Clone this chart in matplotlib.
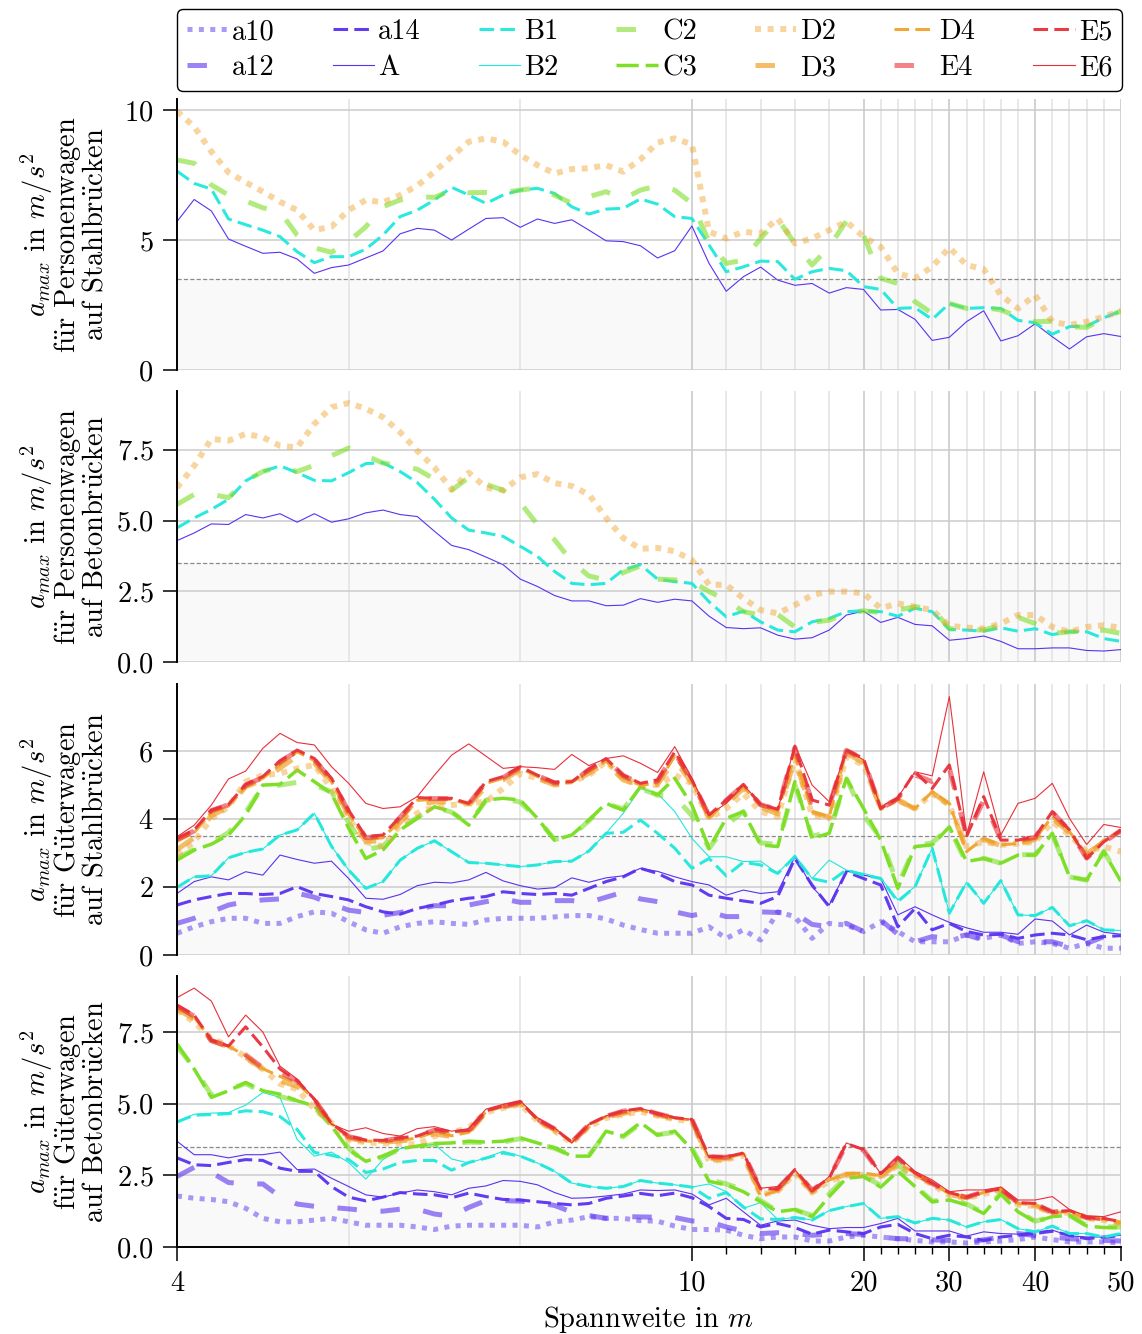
import numpy as np
import matplotlib
matplotlib.use("Agg")
import matplotlib.pyplot as plt

plt.rcParams["font.family"] = "cmr10"
plt.rcParams["mathtext.fontset"] = "cm"
plt.rcParams["axes.formatter.use_mathtext"] = True
plt.rcParams["lines.scale_dashes"] = False

# span lengths in m
spans = [4.0, 4.2, 4.4, 4.6, 4.8, 5.0, 5.2, 5.4, 5.6, 5.8,
         6.0, 6.2, 6.4, 6.6, 6.8, 7.0, 7.2, 7.4, 7.6, 7.8,
         8.0, 8.2, 8.4, 8.6, 8.8, 9.0, 9.2, 9.4, 9.6, 9.8,
         10.0, 11, 12, 13, 14, 15, 16, 17, 18, 19,
         20, 22, 24, 26, 28, 30, 32, 34, 36, 38,
         40, 42, 44, 46, 48, 50]
span_ticks = [4, 10, 20, 30, 40, 50]

# Personenwagen, Stahlbruecken
ps_A = [5.71, 6.56, 6.12, 5.04, 4.76, 4.49, 4.53, 4.27, 3.72, 3.94,
        4.04, 4.31, 4.58, 5.24, 5.45, 5.38, 5.00, 5.42, 5.83, 5.86,
        5.49, 5.81, 5.64, 5.78, 5.38, 4.97, 4.94, 4.78, 4.31, 4.59,
        5.54, 4.10, 3.03, 3.59, 3.96, 3.46, 3.26, 3.33, 2.96, 3.17,
        3.10, 2.31, 2.33, 1.95, 1.14, 1.26, 1.86, 2.28, 1.12, 1.32,
        1.78, 1.28, 0.81, 1.28, 1.40, 1.29]
ps_B1 = [7.65, 7.18, 6.96, 5.81, 5.59, 5.38, 5.13, 4.55, 4.13, 4.36,
         4.36, 4.65, 5.19, 5.90, 6.15, 6.54, 7.03, 6.73, 6.41, 6.73,
         6.92, 6.99, 6.79, 6.28, 6.00, 6.19, 6.22, 6.58, 6.38, 5.90,
         5.83, 4.81, 3.78, 3.97, 4.19, 4.17, 3.49, 3.78, 3.91, 3.82,
         3.21, 3.10, 2.37, 2.40, 1.95, 2.56, 2.37, 2.40, 2.37, 1.91,
         1.82, 1.38, 1.67, 1.69, 2.01, 2.27]
ps_C2 = [8.08, 7.95, 7.12, 6.73, 6.50, 6.24, 6.09, 5.19, 4.70, 4.53,
         4.94, 5.51, 6.28, 6.54, 6.67, 6.64, 6.92, 6.82, 6.83, 6.83,
         6.92, 7.01, 6.73, 6.41, 6.67, 6.86, 6.58, 6.92, 7.09, 6.92,
         6.41, 4.94, 4.10, 4.23, 5.06, 5.81, 4.87, 4.04, 4.74, 5.73,
         5.19, 3.53, 3.33, 2.63, 2.18, 2.56, 2.37, 2.41, 2.31, 2.05,
         1.86, 1.88, 1.67, 1.64, 1.99, 2.27]
ps_D2 = [9.95, 9.36, 8.40, 7.60, 7.22, 6.86, 6.47, 6.15, 5.38, 5.51,
         6.15, 6.54, 6.45, 6.73, 7.09, 7.63, 8.21, 8.78, 8.91, 8.78,
         8.27, 7.88, 7.56, 7.73, 7.76, 7.88, 7.63, 8.10, 8.75, 8.91,
         8.68, 5.32, 5.06, 5.32, 5.25, 5.83, 4.87, 5.06, 5.38, 5.71,
         5.13, 4.74, 3.72, 3.53, 3.97, 4.71, 4.04, 3.88, 2.88, 2.37,
         2.88, 1.86, 1.73, 1.86, 2.05, 2.27]

# Personenwagen, Betonbruecken
pb_A = [4.29, 4.56, 4.88, 4.86, 5.21, 5.09, 5.24, 4.94, 5.24, 4.94,
        5.06, 5.27, 5.37, 5.21, 5.14, 4.62, 4.12, 3.97, 3.71, 3.44,
        2.93, 2.67, 2.35, 2.16, 2.16, 1.99, 2.01, 2.24, 2.11, 2.22,
        2.16, 1.62, 1.22, 1.18, 1.21, 0.95, 0.81, 0.86, 1.13, 1.66,
        1.80, 1.40, 1.58, 1.33, 1.28, 0.77, 0.83, 0.92, 0.73, 0.47,
        0.47, 0.50, 0.50, 0.41, 0.39, 0.44]
pb_B1 = [4.74, 5.09, 5.39, 5.75, 6.40, 6.73, 6.93, 6.69, 6.42, 6.40,
         6.69, 7.01, 7.04, 6.73, 6.34, 5.75, 5.09, 4.66, 4.56, 4.44,
         4.09, 3.73, 3.20, 2.78, 2.73, 2.78, 3.26, 3.44, 2.93, 2.84,
         2.78, 2.13, 1.60, 1.80, 1.42, 1.13, 1.07, 1.42, 1.54, 1.78,
         1.81, 1.78, 1.62, 1.90, 1.78, 1.15, 1.13, 1.09, 1.21, 1.09,
         1.18, 0.97, 1.07, 1.07, 0.83, 0.73]
pb_C2 = [5.57, 5.92, 5.92, 5.81, 6.40, 6.73, 6.90, 6.73, 6.95, 7.29,
         7.56, 7.29, 7.03, 6.93, 6.81, 6.46, 6.07, 6.52, 6.28, 6.07,
         5.63, 4.86, 4.32, 3.55, 3.04, 2.90, 3.16, 3.40, 2.93, 2.90,
         2.84, 2.49, 2.19, 1.78, 1.66, 1.68, 1.24, 1.40, 1.48, 1.72,
         1.81, 1.75, 1.84, 1.95, 1.90, 1.18, 1.15, 1.13, 1.30, 1.58,
         1.36, 1.01, 1.07, 1.09, 1.13, 1.01]
pb_D2 = [6.16, 6.93, 7.88, 7.82, 8.06, 7.94, 7.64, 7.58, 8.41, 9.00,
         9.15, 8.95, 8.65, 8.12, 7.46, 6.87, 6.10, 6.69, 6.16, 6.07,
         6.52, 6.64, 6.32, 6.22, 5.92, 5.09, 4.38, 4.00, 4.03, 3.91,
         3.61, 2.73, 2.73, 2.25, 1.84, 1.72, 2.01, 2.37, 2.49, 2.49,
         2.43, 1.90, 2.07, 1.95, 1.84, 1.28, 1.22, 1.18, 1.36, 1.66,
         1.66, 1.24, 1.07, 1.24, 1.30, 1.21]

# Gueterwagen, Stahlbruecken
gs_a10 = [0.64, 0.83, 0.98, 1.08, 1.08, 0.93, 0.93, 1.13, 1.27, 1.23,
          0.98, 0.74, 0.64, 0.83, 0.93, 0.98, 0.93, 0.90, 1.03, 1.08,
          1.08, 1.08, 1.12, 1.16, 1.16, 1.06, 0.88, 0.75, 0.64, 0.64,
          0.64, 0.83, 0.49, 0.74, 0.44, 1.27, 1.13, 0.49, 0.93, 0.88,
          0.69, 0.98, 0.69, 0.39, 0.39, 0.39, 0.59, 0.49, 0.59, 0.34,
          0.39, 0.34, 0.20, 0.34, 0.20, 0.20]
gs_a12 = [0.93, 1.08, 1.27, 1.47, 1.57, 1.62, 1.65, 1.82, 1.70, 1.50,
          1.32, 1.25, 1.17, 1.25, 1.35, 1.45, 1.45, 1.47, 1.57, 1.65,
          1.55, 1.55, 1.60, 1.60, 1.55, 1.70, 1.85, 1.65, 1.57, 1.27,
          1.16, 1.27, 1.13, 1.13, 1.27, 1.25, 1.23, 0.90, 0.83, 0.93,
          0.69, 1.03, 0.61, 0.39, 0.54, 0.49, 0.59, 0.44, 0.59, 0.39,
          0.39, 0.39, 0.25, 0.34, 0.54, 0.54]
gs_a14 = [1.47, 1.62, 1.72, 1.81, 1.81, 1.78, 1.81, 2.01, 1.81, 1.72,
          1.62, 1.42, 1.27, 1.20, 1.37, 1.47, 1.59, 1.67, 1.72, 1.86,
          1.81, 1.78, 1.81, 1.76, 1.96, 2.16, 2.30, 2.55, 2.40, 2.16,
          2.06, 1.76, 1.67, 1.59, 1.52, 1.72, 2.84, 2.06, 1.42, 2.45,
          2.25, 2.06, 0.83, 1.37, 0.74, 0.93, 0.69, 0.59, 0.61, 0.49,
          0.59, 0.64, 0.59, 0.45, 0.54, 0.57]
gs_A = [1.81, 2.16, 2.30, 2.21, 2.45, 2.35, 2.94, 2.81, 2.70, 2.76,
        2.25, 1.67, 1.64, 1.78, 2.04, 2.14, 2.12, 2.21, 2.43, 2.18,
        2.04, 1.94, 1.98, 2.27, 2.14, 2.27, 2.33, 2.55, 2.46, 2.30,
        2.16, 2.06, 1.76, 1.91, 1.81, 1.86, 2.89, 2.01, 1.47, 2.47,
        2.35, 2.25, 1.18, 1.42, 1.18, 0.96, 0.80, 0.67, 0.67, 0.61,
        1.06, 1.00, 0.59, 0.88, 0.67, 0.61]
gs_B1 = [1.99, 2.30, 2.33, 2.86, 3.02, 3.12, 3.53, 3.68, 4.17, 3.20,
         2.50, 1.96, 2.16, 2.79, 3.14, 3.36, 3.04, 2.72, 2.70, 2.65,
         2.60, 2.65, 2.75, 2.76, 3.06, 3.58, 3.61, 3.97, 3.58, 3.14,
         2.55, 2.84, 2.33, 2.73, 2.65, 2.40, 2.89, 2.25, 2.14, 2.50,
         2.35, 2.25, 1.57, 2.01, 3.14, 1.23, 2.14, 1.52, 2.19, 1.18,
         1.16, 1.40, 0.86, 1.01, 0.74, 0.72]
gs_B2 = [1.99, 2.30, 2.33, 2.86, 3.02, 3.12, 3.53, 3.68, 4.17, 3.20,
         2.50, 1.96, 2.16, 2.79, 3.14, 3.36, 3.04, 2.72, 2.70, 2.65,
         2.60, 2.65, 2.75, 2.76, 3.06, 3.58, 4.17, 4.90, 4.75, 4.22,
         3.43, 2.89, 2.89, 2.75, 2.76, 2.40, 2.94, 2.25, 2.79, 2.50,
         2.40, 2.27, 1.62, 2.01, 3.14, 1.23, 2.14, 1.52, 2.19, 1.18,
         1.16, 1.40, 0.86, 1.01, 0.74, 0.72]
gs_C2 = [2.85, 3.10, 3.30, 3.60, 4.20, 4.95, 5.00, 5.08, 5.00, 4.80,
         3.90, 3.10, 3.20, 3.70, 4.05, 4.35, 4.20, 3.85, 4.55, 4.60,
         4.50, 4.00, 3.40, 3.50, 3.95, 4.45, 4.30, 4.90, 4.70, 4.66,
         4.10, 3.14, 3.82, 4.22, 3.30, 3.25, 5.00, 3.50, 3.60, 5.20,
         4.10, 3.45, 2.05, 3.20, 3.30, 3.75, 2.70, 2.85, 2.70, 2.95,
         2.95, 3.55, 2.30, 2.20, 3.05, 2.20]
gs_C3 = [2.79, 3.09, 3.26, 3.53, 4.12, 5.00, 5.02, 5.44, 5.10, 4.75,
         3.73, 2.84, 3.09, 3.68, 4.02, 4.36, 4.22, 3.82, 4.56, 4.61,
         4.56, 4.02, 3.38, 3.53, 3.97, 4.46, 4.26, 4.95, 4.71, 5.20,
         4.41, 3.14, 4.02, 4.22, 3.24, 3.19, 5.10, 3.43, 3.58, 5.20,
         4.31, 3.38, 1.96, 3.19, 3.24, 3.77, 2.75, 2.84, 2.70, 2.94,
         2.94, 3.58, 2.30, 2.21, 3.04, 2.16]
gs_D2 = [2.94, 3.33, 4.02, 4.36, 5.10, 5.29, 5.34, 5.49, 5.59, 4.90,
         4.02, 3.33, 3.19, 3.82, 4.17, 4.36, 4.41, 4.46, 4.51, 4.90,
         5.34, 5.20, 5.05, 5.10, 5.29, 5.69, 5.20, 5.00, 5.00, 5.29,
         5.05, 4.02, 4.31, 4.75, 4.22, 4.07, 5.78, 4.12, 4.02, 5.83,
         5.59, 4.36, 4.56, 4.31, 4.75, 4.41, 3.19, 3.33, 3.24, 3.28,
         3.33, 3.92, 3.53, 3.04, 3.19, 3.04]
gs_D3 = [3.10, 3.45, 4.10, 4.35, 4.95, 5.15, 5.50, 5.85, 5.65, 5.05,
         4.10, 3.35, 3.35, 3.90, 4.45, 4.50, 4.50, 4.40, 4.95, 5.15,
         5.45, 5.20, 5.00, 5.05, 5.35, 5.65, 5.15, 4.98, 5.02, 5.75,
         5.05, 4.05, 4.45, 4.90, 4.35, 4.15, 5.75, 4.20, 4.05, 5.95,
         5.65, 4.30, 4.55, 4.30, 4.78, 4.42, 3.10, 3.40, 3.22, 3.26,
         3.40, 4.02, 3.60, 2.98, 3.32, 3.40]
gs_D4 = [3.35, 3.60, 4.20, 4.38, 4.95, 5.20, 5.60, 5.98, 5.72, 5.10,
         4.15, 3.40, 3.45, 3.95, 4.55, 4.58, 4.58, 4.42, 5.05, 5.20,
         5.50, 5.25, 5.05, 5.08, 5.40, 5.70, 5.20, 5.00, 5.05, 5.85,
         5.10, 4.05, 4.50, 4.95, 4.40, 4.22, 5.88, 4.22, 4.07, 6.00,
         5.72, 4.28, 4.58, 4.31, 4.80, 4.46, 3.04, 3.43, 3.24, 3.28,
         3.43, 4.07, 3.63, 2.94, 3.38, 3.63]
gs_E4 = [3.40, 3.65, 4.25, 4.42, 5.00, 5.22, 5.68, 6.00, 5.75, 5.15,
         4.22, 3.45, 3.50, 4.05, 4.60, 4.60, 4.60, 4.45, 5.08, 5.22,
         5.52, 5.28, 5.06, 5.08, 5.45, 5.75, 5.28, 5.04, 5.12, 5.95,
         5.12, 4.10, 4.55, 5.00, 4.42, 4.28, 6.10, 4.50, 4.38, 6.02,
         5.76, 4.30, 4.60, 5.30, 5.10, 5.50, 3.50, 4.55, 3.40, 3.38,
         3.46, 4.20, 3.66, 2.85, 3.32, 3.66]
gs_E5 = [3.43, 3.68, 4.26, 4.43, 5.02, 5.25, 5.71, 6.03, 5.78, 5.20,
         4.26, 3.48, 3.53, 4.07, 4.63, 4.61, 4.61, 4.46, 5.10, 5.25,
         5.54, 5.29, 5.08, 5.10, 5.47, 5.78, 5.29, 5.05, 5.15, 5.98,
         5.15, 4.12, 4.56, 5.02, 4.43, 4.29, 6.13, 4.56, 4.41, 6.03,
         5.78, 4.31, 4.61, 5.39, 4.90, 5.59, 3.48, 4.66, 3.38, 3.38,
         3.48, 4.22, 3.68, 2.84, 3.33, 3.68]
gs_E6 = [3.48, 3.82, 4.41, 5.18, 5.41, 6.08, 6.52, 6.25, 6.18, 5.54,
         5.05, 4.46, 4.31, 4.36, 4.66, 5.29, 5.88, 6.21, 5.85, 5.49,
         5.54, 5.51, 5.46, 5.90, 5.57, 5.78, 5.86, 5.64, 5.37, 6.13,
         5.20, 4.12, 4.46, 5.00, 4.46, 4.26, 6.18, 5.00, 4.51, 6.03,
         5.74, 4.36, 4.64, 5.39, 5.27, 7.60, 3.53, 5.39, 3.53, 4.46,
         4.61, 5.05, 4.02, 3.25, 3.84, 3.75]

# Gueterwagen, Betonbruecken
gb_a10 = [1.78, 1.70, 1.66, 1.58, 1.35, 1.00, 0.88, 0.88, 0.94, 1.00,
          0.88, 0.76, 0.76, 0.76, 0.70, 0.61, 0.73, 0.76, 0.76, 0.76,
          0.76, 0.70, 0.88, 0.94, 1.06, 1.00, 1.00, 0.92, 0.90, 0.73,
          0.61, 0.61, 0.59, 0.41, 0.29, 0.35, 0.35, 0.21, 0.21, 0.35,
          0.41, 0.35, 0.29, 0.23, 0.18, 0.18, 0.14, 0.18, 0.21, 0.26,
          0.35, 0.26, 0.18, 0.18, 0.18, 0.14]
gb_a12 = [2.46, 2.78, 2.60, 2.25, 2.20, 2.20, 1.76, 1.50, 1.42, 1.38,
          1.33, 1.27, 1.25, 1.32, 1.32, 1.15, 1.08, 1.38, 1.62, 1.62,
          1.60, 1.55, 1.45, 1.22, 1.10, 1.00, 1.06, 1.05, 1.04, 1.03,
          0.91, 0.88, 0.70, 0.56, 0.47, 0.50, 0.47, 0.41, 0.45, 0.47,
          0.44, 0.35, 0.29, 0.29, 0.25, 0.23, 0.18, 0.25, 0.35, 0.47,
          0.40, 0.35, 0.29, 0.25, 0.23, 0.21]
gb_a14 = [3.11, 2.87, 2.84, 2.95, 3.05, 3.02, 2.75, 2.64, 2.64, 2.11,
          1.74, 1.61, 1.74, 1.90, 1.85, 1.82, 1.72, 1.88, 1.76, 1.66,
          1.64, 1.58, 1.52, 1.47, 1.52, 1.70, 1.78, 1.87, 1.79, 1.88,
          1.72, 1.41, 1.00, 0.96, 0.70, 0.82, 0.68, 0.45, 0.59, 0.53,
          0.47, 0.70, 0.79, 0.47, 0.29, 0.41, 0.35, 0.23, 0.35, 0.41,
          0.47, 0.55, 0.41, 0.29, 0.35, 0.39]
gb_A = [3.69, 3.22, 3.22, 3.11, 3.22, 3.22, 3.31, 2.70, 2.72, 2.40,
        2.11, 1.82, 1.74, 1.88, 1.99, 1.93, 1.82, 2.05, 2.13, 2.32,
        2.29, 2.17, 1.90, 1.70, 1.72, 1.78, 1.85, 1.99, 1.97, 1.99,
        1.85, 1.47, 1.70, 1.23, 0.76, 0.91, 0.94, 0.76, 0.64, 0.68,
        0.68, 0.82, 1.00, 0.56, 0.56, 0.56, 0.38, 0.53, 0.47, 0.45,
        0.53, 0.59, 0.39, 0.35, 0.35, 0.41]
gb_B1 = [4.36, 4.60, 4.62, 4.65, 4.75, 4.72, 4.55, 4.10, 3.30, 3.20,
         3.05, 2.60, 2.72, 2.95, 3.02, 3.02, 2.68, 2.95, 3.10, 3.28,
         3.17, 2.93, 2.64, 2.23, 2.11, 2.05, 2.11, 2.32, 2.23, 2.17,
         2.09, 1.70, 1.90, 1.40, 0.98, 0.96, 1.03, 0.94, 1.27, 1.41,
         1.52, 1.00, 1.06, 0.84, 1.00, 0.94, 0.70, 0.88, 0.96, 0.64,
         0.53, 0.73, 0.47, 0.47, 0.35, 0.47]
gb_B2 = [4.36, 4.63, 4.67, 4.69, 4.95, 5.39, 5.22, 3.75, 3.17, 3.31,
         2.95, 2.37, 3.05, 3.43, 3.52, 3.58, 3.07, 2.93, 3.11, 3.34,
         3.17, 2.93, 2.64, 2.23, 2.11, 2.05, 2.11, 2.32, 2.23, 2.17,
         2.09, 2.20, 1.93, 1.35, 1.55, 0.96, 1.03, 0.94, 1.27, 1.41,
         1.52, 1.00, 1.06, 0.84, 1.00, 0.94, 0.70, 0.88, 0.96, 0.64,
         0.53, 0.73, 0.47, 0.47, 0.35, 0.47]
gb_C2 = [7.00, 6.25, 5.30, 5.50, 5.70, 5.40, 5.25, 5.10, 4.87, 4.25,
         3.45, 2.93, 3.15, 3.40, 3.50, 3.58, 3.60, 3.66, 3.64, 3.66,
         3.78, 3.60, 3.44, 3.20, 3.20, 3.98, 3.85, 4.30, 3.92, 4.00,
         3.45, 2.35, 2.20, 2.00, 1.62, 1.25, 1.30, 1.10, 1.85, 2.45,
         2.48, 2.15, 2.93, 2.15, 1.60, 1.66, 1.50, 1.20, 1.88, 1.25,
         0.90, 1.05, 1.10, 0.75, 0.70, 0.70]
gb_C3 = [7.09, 6.21, 5.22, 5.45, 5.74, 5.45, 5.33, 5.10, 4.92, 4.22,
         3.40, 2.99, 3.17, 3.43, 3.52, 3.61, 3.63, 3.69, 3.66, 3.69,
         3.81, 3.63, 3.46, 3.17, 3.17, 4.04, 3.87, 4.34, 3.90, 4.04,
         3.40, 2.29, 2.17, 1.93, 1.58, 1.23, 1.31, 1.06, 1.76, 2.40,
         2.46, 2.09, 2.64, 2.11, 1.58, 1.64, 1.47, 1.17, 1.85, 1.23,
         0.88, 1.06, 1.11, 0.73, 0.68, 0.68]
gb_D2 = [8.27, 7.85, 7.27, 7.03, 6.62, 6.21, 5.69, 5.51, 4.81, 4.34,
         3.75, 3.65, 3.62, 3.60, 3.58, 3.87, 3.99, 4.16, 4.70, 4.85,
         4.98, 4.40, 4.05, 3.62, 4.20, 4.50, 4.62, 4.72, 4.58, 4.45,
         4.38, 3.00, 3.05, 3.20, 1.82, 1.95, 2.58, 1.90, 2.30, 2.50,
         2.52, 2.44, 2.85, 2.52, 2.18, 1.80, 1.70, 1.85, 2.00, 1.48,
         1.43, 1.18, 1.20, 1.00, 0.94, 0.82]
gb_D3 = [8.30, 7.95, 7.20, 6.98, 6.62, 6.20, 5.80, 5.60, 5.05, 4.30,
         3.80, 3.68, 3.65, 3.70, 3.75, 3.95, 3.85, 3.98, 4.70, 4.88,
         5.00, 4.42, 4.08, 3.64, 4.22, 4.52, 4.66, 4.76, 4.60, 4.48,
         4.40, 3.02, 3.08, 3.22, 1.80, 1.98, 2.60, 1.92, 2.32, 2.54,
         2.56, 2.46, 2.90, 2.55, 2.20, 1.83, 1.72, 1.88, 2.02, 1.50,
         1.45, 1.18, 1.22, 1.02, 0.95, 0.84]
gb_D4 = [8.35, 8.02, 7.22, 7.00, 6.68, 6.22, 5.95, 5.72, 5.15, 4.30,
         3.85, 3.70, 3.66, 3.72, 3.80, 4.02, 3.88, 4.00, 4.72, 4.90,
         5.03, 4.45, 4.10, 3.66, 4.25, 4.55, 4.68, 4.78, 4.62, 4.50,
         4.42, 3.05, 3.11, 3.25, 1.76, 1.99, 2.64, 1.93, 2.34, 2.56,
         2.58, 2.49, 2.93, 2.58, 2.23, 1.85, 1.74, 1.90, 2.05, 1.52,
         1.47, 1.20, 1.23, 1.03, 0.96, 0.84]
gb_E4 = [8.40, 8.05, 7.20, 7.00, 6.70, 6.25, 6.10, 5.78, 5.15, 4.30,
         3.85, 3.72, 3.70, 3.80, 3.86, 4.08, 4.00, 4.06, 4.74, 4.90,
         5.05, 4.45, 4.12, 3.66, 4.27, 4.56, 4.74, 4.82, 4.65, 4.50,
         4.44, 3.15, 3.13, 3.27, 2.03, 2.03, 2.68, 1.98, 2.40, 3.58,
         3.38, 2.55, 3.10, 2.57, 2.22, 1.88, 1.74, 1.92, 2.02, 1.54,
         1.50, 1.22, 1.26, 1.03, 0.99, 0.87]
gb_E5 = [8.44, 8.09, 7.21, 7.01, 7.68, 6.98, 6.21, 5.80, 5.16, 4.31,
         3.87, 3.73, 3.72, 3.81, 3.87, 4.10, 4.02, 4.07, 4.75, 4.92,
         5.06, 4.45, 4.13, 3.66, 4.28, 4.57, 4.75, 4.83, 4.65, 4.51,
         4.45, 3.17, 3.14, 3.28, 2.03, 2.03, 2.70, 1.99, 2.40, 3.61,
         3.40, 2.56, 3.11, 2.58, 2.23, 1.90, 1.74, 1.93, 2.03, 1.55,
         1.52, 1.23, 1.27, 1.03, 1.00, 0.88]
gb_E6 = [8.70, 9.03, 8.58, 7.33, 8.09, 7.50, 6.31, 5.86, 5.16, 4.28,
         4.04, 4.16, 3.96, 3.87, 4.13, 4.20, 4.04, 4.13, 4.81, 4.98,
         5.10, 4.51, 4.16, 3.63, 4.28, 4.57, 4.75, 4.83, 4.69, 4.51,
         4.45, 3.11, 3.17, 3.28, 2.05, 2.11, 2.70, 1.93, 2.46, 3.63,
         3.40, 2.56, 3.17, 2.64, 2.34, 1.93, 1.99, 1.99, 2.09, 1.64,
         1.64, 1.76, 1.31, 1.08, 1.06, 1.23]

limit = 3.5

# x axis: 0.2 m (up to 10 m), 1 m (up to 20 m) and 2 m steps get equal width
brk_m = [4, 10, 20, 50]
brk_u = [0, 30, 40, 55]


def fwd(x):
    return np.interp(x, brk_m, brk_u)


def inv(u):
    return np.interp(u, brk_u, brk_m)


c_a = "#5a32f0"
c_b = "#20e8dc"
c_c = "#7ddf28"
c_d = "#f0a22a"
c_e = "#e8303a"
long_dash = (0, (14, 17))
dash = (0, (10.5, 4.5))
styles = {
    "a10": dict(color=c_a, alpha=0.5, lw=3.6, ls=(0, (3.6, 4.6))),
    "a12": dict(color=c_a, alpha=0.6, lw=3.6, ls=long_dash),
    "a14": dict(color=c_a, alpha=0.95, lw=2.2, ls=dash),
    "A": dict(color=c_a, lw=0.8),
    "B1": dict(color=c_b, alpha=0.95, lw=2.2, ls=dash),
    "B2": dict(color=c_b, lw=0.8),
    "C2": dict(color=c_c, alpha=0.6, lw=3.6, ls=long_dash),
    "C3": dict(color=c_c, lw=2.5, ls=(0, (16, 5))),
    "D2": dict(color=c_d, alpha=0.45, lw=4.3, ls=(0, (4.3, 4.8))),
    "D3": dict(color=c_d, alpha=0.7, lw=3.6, ls=long_dash),
    "D4": dict(color=c_d, alpha=0.95, lw=2.2, ls=dash),
    "E4": dict(color=c_e, alpha=0.6, lw=3.6, ls=long_dash),
    "E5": dict(color=c_e, alpha=0.95, lw=2.2, ls=dash),
    "E6": dict(color=c_e, lw=0.8),
}

uu = r"$\ddot{\mathrm{u}}$"
acc = r"$a_{max}$ in $m/s^2$"
panels = [
    ({"A": ps_A, "B1": ps_B1, "C2": ps_C2, "D2": ps_D2},
     [acc, "f" + uu + "r Personenwagen", "auf Stahlbr" + uu + "cken"], 10.42, [0, 5, 10]),
    ({"A": pb_A, "B1": pb_B1, "C2": pb_C2, "D2": pb_D2},
     [acc, "f" + uu + "r Personenwagen", "auf Betonbr" + uu + "cken"], 9.57, [0, 2.5, 5, 7.5]),
    ({"a10": gs_a10, "a12": gs_a12, "a14": gs_a14, "A": gs_A, "B1": gs_B1, "B2": gs_B2,
      "C2": gs_C2, "C3": gs_C3, "D2": gs_D2, "D3": gs_D3, "D4": gs_D4,
      "E4": gs_E4, "E5": gs_E5, "E6": gs_E6},
     [acc, "f" + uu + "r G" + uu + "terwagen", "auf Stahlbr" + uu + "cken"], 7.97, [0, 2, 4, 6]),
    ({"a10": gb_a10, "a12": gb_a12, "a14": gb_a14, "A": gb_A, "B1": gb_B1, "B2": gb_B2,
      "C2": gb_C2, "C3": gb_C3, "D2": gb_D2, "D3": gb_D3, "D4": gb_D4,
      "E4": gb_E4, "E5": gb_E5, "E6": gb_E6},
     [acc, "f" + uu + "r G" + uu + "terwagen", "auf Betonbr" + uu + "cken"], 9.45, [0, 2.5, 5, 7.5]),
]

fs = 20.5
# baselines of the three y-label lines, in axes fraction
label_x = [-0.139, -0.1085, -0.0785]

fig = plt.figure(figsize=(11.42, 13.34), dpi=100)
bottoms = [0.7226, 0.5037, 0.2841, 0.0652]
axes = []
for k, (series, ylab, ytop, yt) in enumerate(panels):
    ax = fig.add_axes([0.155, bottoms[k], 0.8266, 0.2031])
    ax.set_xscale("function", functions=(fwd, inv))
    ax.set_xlim(4, 50)
    ax.set_ylim(0, ytop)
    ax.set_axisbelow(True)

    ax.axhspan(0, limit, color="#f9f9f9", zorder=0.2, lw=0)
    ax.axhline(limit, color="#8a8a8a", lw=0.9, ls=(0, (3, 1.6)), zorder=1.5)

    for name, vals in series.items():
        ax.plot(spans, vals, label=name, **styles[name])

    ax.set_xticks(span_ticks)
    ax.set_xticklabels([str(t) for t in span_ticks])
    ax.set_xticks([12, 14, 16, 18] + list(range(22, 50, 2)), minor=True)
    ax.grid(axis="x", which="major", color="#c6c6c6", lw=1.1)
    ax.grid(axis="x", which="minor", color="#e2e2e2", lw=1.1)
    for xv in (6, 8):
        ax.axvline(xv, color="#e2e2e2", lw=1.1, zorder=0.5)
    ax.set_yticks(yt)
    ax.grid(axis="y", color="#cccccc", lw=1.1)

    for s in ("top", "right"):
        ax.spines[s].set_visible(False)
    ax.spines["left"].set_linewidth(1.4)
    ax.spines["bottom"].set_linewidth(1.4)
    ax.tick_params(axis="y", direction="out", length=10, width=1.1, pad=7, labelsize=fs)
    ax.tick_params(axis="x", which="major", direction="out", length=10, width=1.1,
                   pad=7, labelsize=fs)
    ax.tick_params(axis="x", which="minor", direction="out", length=5, width=1.0)
    if k < 3:
        ax.spines["bottom"].set_visible(False)
        ax.tick_params(axis="x", which="both", bottom=False, labelbottom=False)

    for xl, line in zip(label_x, ylab):
        ax.text(xl, 0.5, line, transform=ax.transAxes, rotation=90,
                rotation_mode="anchor", ha="center", va="baseline", fontsize=fs)
    axes.append(ax)

axes[-1].set_xlabel("Spannweite in $m$", fontsize=fs)
axes[-1].xaxis.set_label_coords(0.5, -0.21)

handles, labels = axes[-1].get_legend_handles_labels()
leg = fig.legend(handles, labels, ncol=7, loc="lower left",
                 bbox_to_anchor=(0.155, 1 - 91 / 1334, 0.8275, 0.06),
                 mode="expand", borderaxespad=0, fontsize=fs,
                 handlelength=1.45, handletextpad=0.15, labelspacing=0.35,
                 borderpad=0.34, columnspacing=1.0, fancybox=True,
                 framealpha=1, edgecolor="black")
leg.get_frame().set_linewidth(1.0)

fig.savefig("out.png", dpi=100)
